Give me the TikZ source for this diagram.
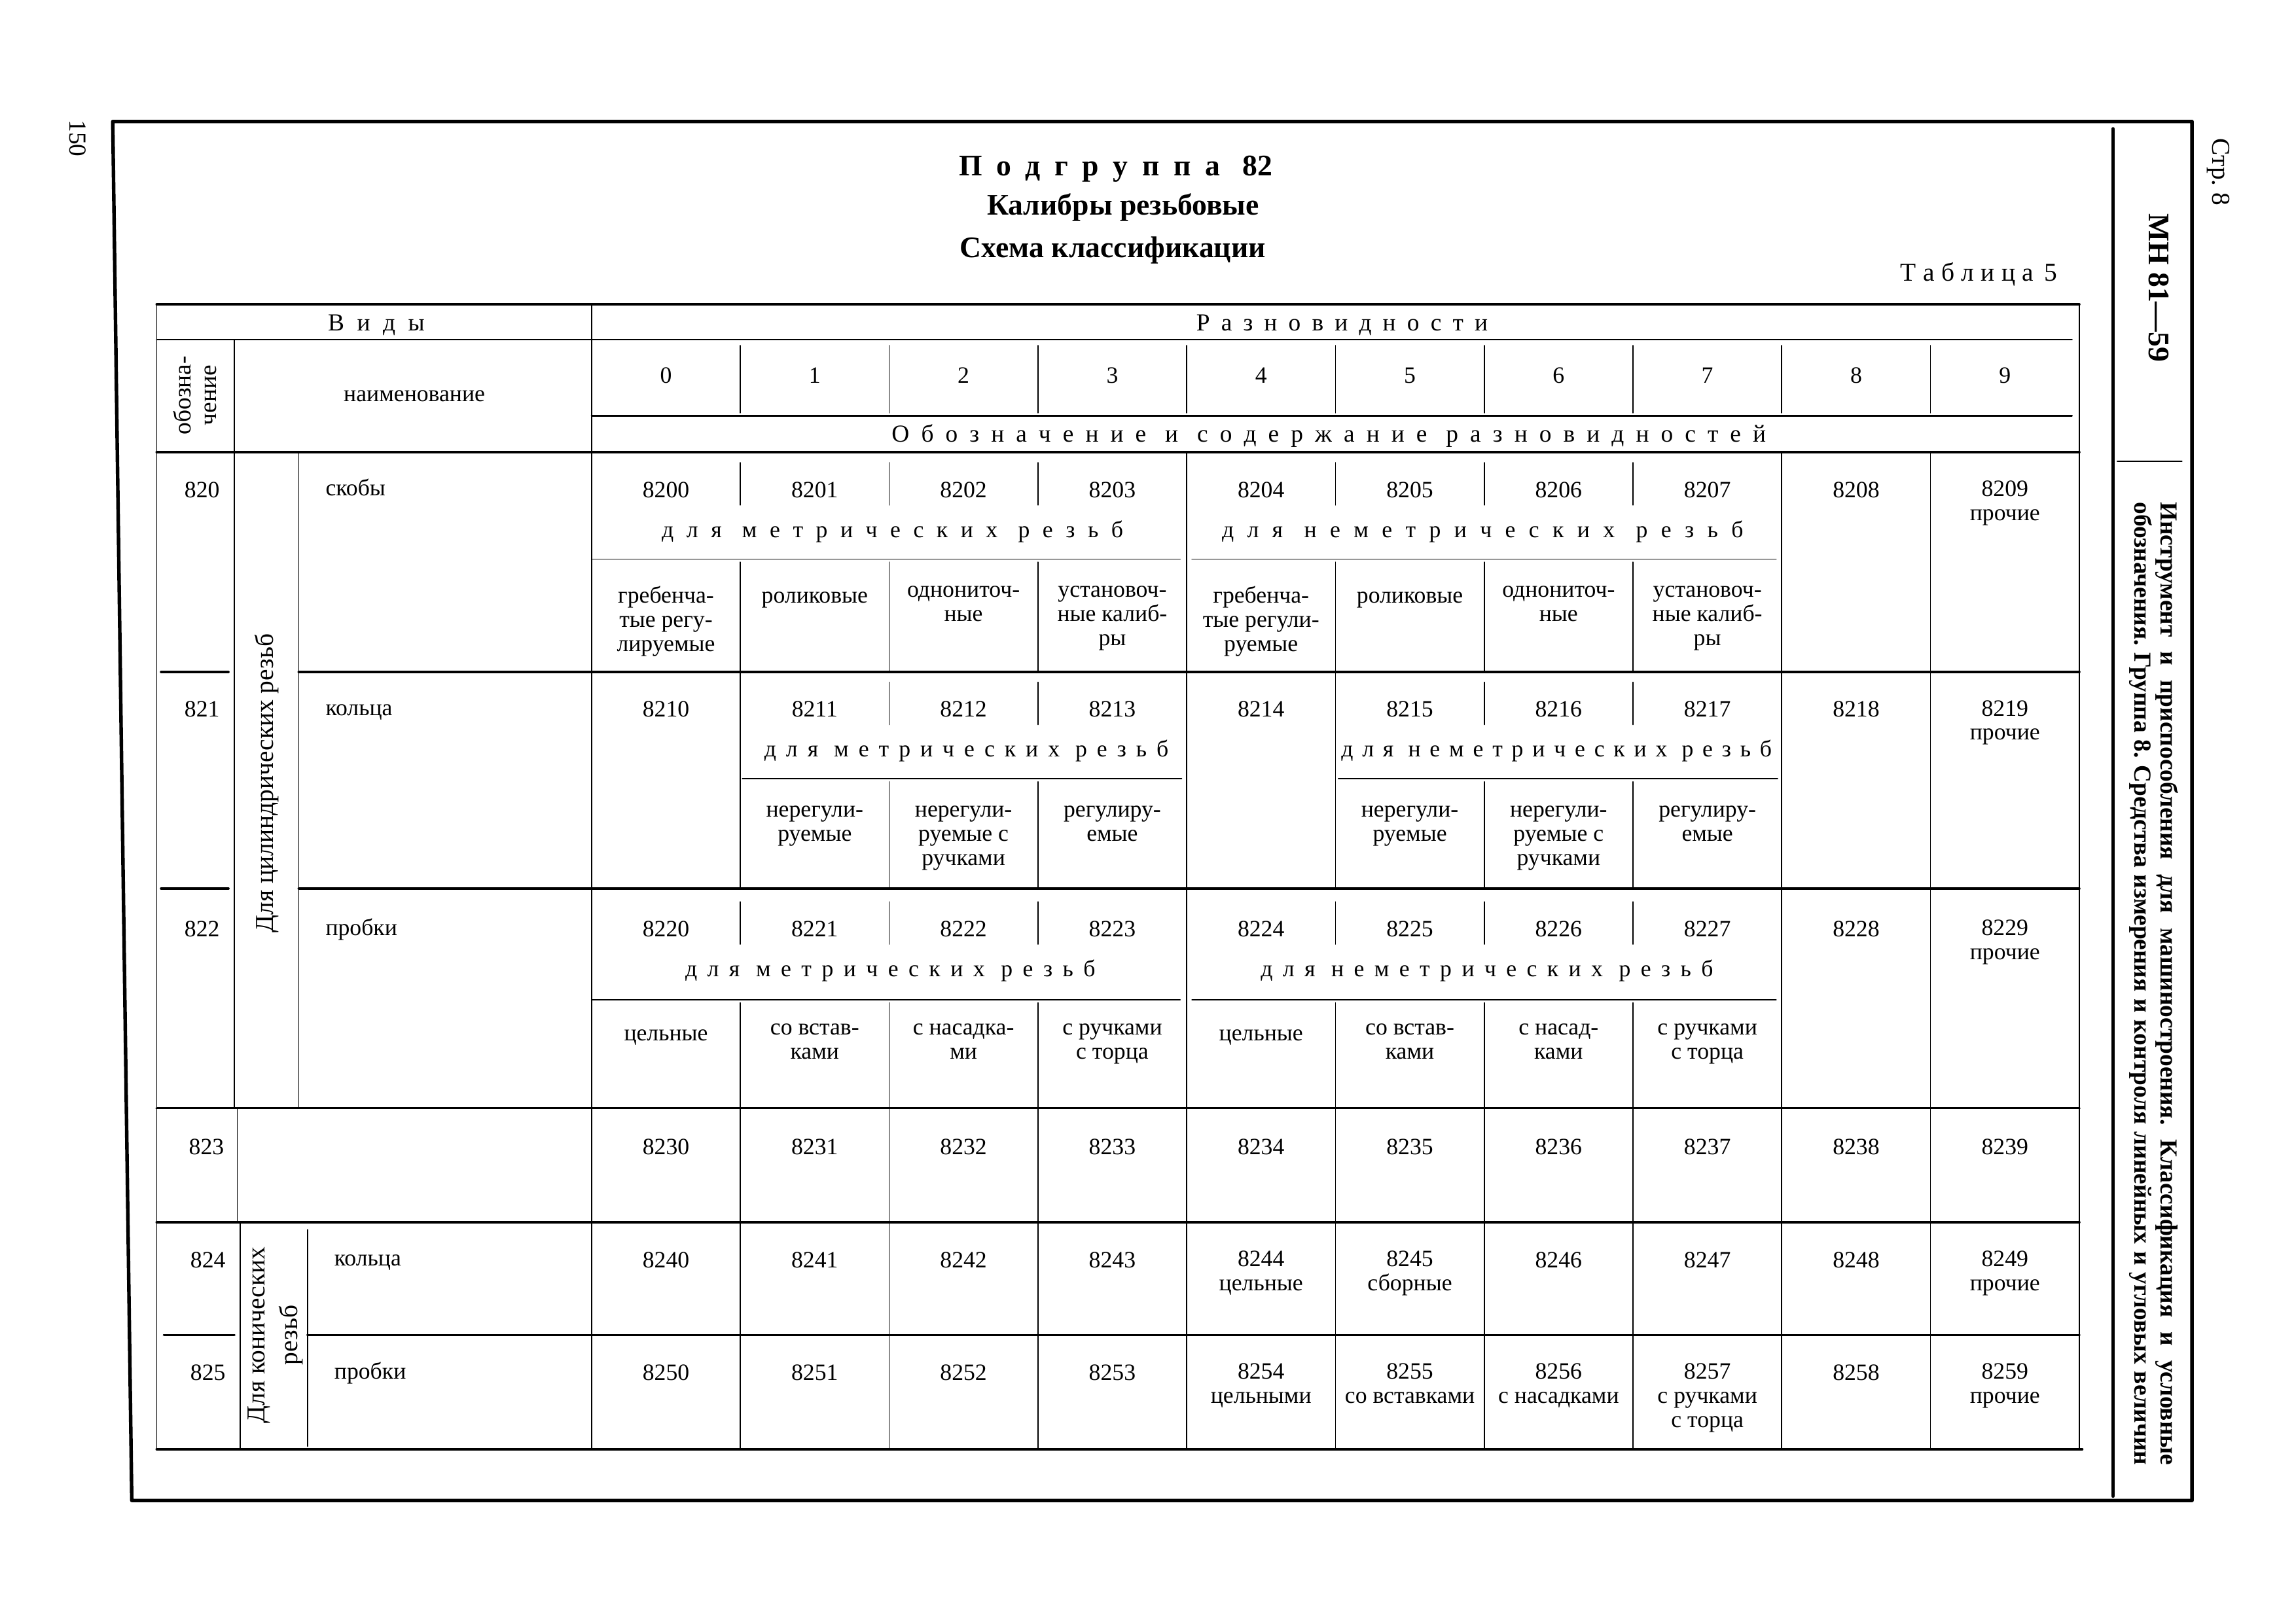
\documentclass[tikz,border=0pt]{standalone}
\usepackage{fontspec}
\setmainfont{Liberation Serif}
\usetikzlibrary{positioning}
\frenchspacing

\newlength\pxunit
\setlength\pxunit{0.018941cm}
\newcommand{\cellfont}{\fontsize{8.6}{8.9}\selectfont}
% letters spread out to a given width (in picture units)
\newcommand{\spread}[2]{\makebox[#1\pxunit][s]{\spaceskip=0pt plus 1fil\relax #2}}
\newcommand{\wg}{\hspace{0pt plus 1.6fil}}

\begin{document}
\begin{tikzpicture}[x=0.018941cm,y=-0.018941cm,line cap=round,line join=round,
  borderline/.style={line width=1.3pt},
  heavyrule/.style={line width=0.9pt},
  midrule/.style={line width=0.6pt},
  thinrule/.style={line width=0.4pt},
  num/.style={font=\cellfont,align=center,inner sep=0pt,anchor=north,execute at begin node=\vphantom{Бб}},
  rowname/.style={num,anchor=north west},
  spaced/.style={font=\cellfont,inner sep=0pt,anchor=base},
  titletext/.style={font=\bfseries\fontsize{11}{13}\selectfont,inner sep=0pt,anchor=base},
  sidetext/.style={font=\bfseries\fontsize{9}{11}\selectfont,inner sep=0pt,rotate=-90}]
\useasboundingbox (0,0) rectangle (1568,1109);

% page frame and side strip
\draw[borderline] (77,83) -- (1497,83) -- (1497,1025) -- (90,1025) -- cycle;
\draw[borderline] (1443,88) -- (1443,1022);
\draw[midrule] (1446,315) -- (1490,315);
\node[font=\fontsize{9}{11}\selectfont,inner sep=0pt,rotate=-90] (page) at (53,94.5) {150};
\node[font=\fontsize{9.5}{11}\selectfont,inner sep=0pt,rotate=-90] (str) at (1515,117.5) {Стр. 8};
\node[font=\bfseries\fontsize{11}{13}\selectfont,inner sep=0pt,rotate=-90] (mn) at (1474.5,196.5) {МН 81—59};
\node[sidetext] (side1) at (1480,672) {\makebox[658\pxunit][s]{Инструмент и приспособления для машиностроения. Классификация и условные}};
\node[sidetext] (side2) at (1462,672) {\makebox[658\pxunit][s]{обозначения. Группа 8. Средства измерения и контроля линейных и угловых величин}};

% titles
\node[titletext] (podgr) at (762,120) {\spread{214}{П о д г р у п п а\wg 82}};
\node[titletext] (kalibr) at (767,147) {Калибры резьбовые};
\node[titletext] (shema) at (760,176) {Схема классификации};
\node[font=\fontsize{9.5}{11}\selectfont,inner sep=0pt,anchor=base] (tabl) at (1351.5,192) {\spread{107}{Т а б л и ц а\wg 5}};

% table outline and header
\draw[heavyrule] (107,208) -- (1420,208);
\draw[thinrule] (107,208) -- (107,990);
\draw[thinrule] (1420,208) -- (1420,990);
\draw[heavyrule] (107,990) -- (1422,990);
\draw[thinrule] (404,208) -- (404,309);
\draw[midrule] (107,232) -- (1415,232);
\draw[thinrule] (160,232) -- (160,309);
\foreach \i in {1,...,9} \draw[thinrule] ({404+101.6*\i},236) -- ++(0,46);
\draw[midrule] (404,284) -- (1415,284);
\draw[heavyrule] (107,309) -- (1420,309);

\node[spaced,font=\fontsize{9}{10}\selectfont] (vidy) at (257,226) {\spread{66}{В и д ы}};
\node[spaced,font=\fontsize{9}{10}\selectfont] (raznov) at (916.5,226) {\spread{199}{Р а з н о в и д н о с т и}};
\node[font=\fontsize{9}{9.5}\selectfont,align=center,inner sep=0pt,rotate=90] (oboz) at (133,270) {обозна-\\чение};
\node[spaced] (naimen) at (283,274) {наименование};
\foreach \i in {0,...,9} \node[spaced] (d\i) at ({454.8+101.6*\i},261.5) {\i};
\node[spaced,font=\fontsize{9}{10}\selectfont] (soderzh) at (907.5,302) {\spread{597}{О б о з н а ч е н и е\wg и\wg с о д е р ж а н и е\wg р а з н о в и д н о с т е й}};

% left columns
\draw[thinrule] (160,309) -- (160,757);
\draw[thinrule] (204,309) -- (204,757);
\draw[heavyrule] (110,459) -- (156,459);
\draw[heavyrule] (110,607) -- (156,607);
\draw[heavyrule] (204,459) -- (1420,459);
\draw[heavyrule] (204,607) -- (1420,607);
\draw[heavyrule] (107,757) -- (1420,757);
\draw[thinrule] (162,757) -- (162,835);
\draw[heavyrule] (107,835) -- (1420,835);
\draw[thinrule] (164,835) -- (164,990);
\draw[thinrule] (210,840) -- (210,988);
\draw[heavyrule] (112,912) -- (160,912);
\draw[heavyrule] (210,912) -- (1420,912);
\node[font=\fontsize{9.5}{11}\selectfont,inner sep=0pt,rotate=90] (cyl) at (182,535) {Для цилиндрических резьб};
\node[font=\fontsize{9.5}{12}\selectfont,align=center,inner sep=0pt,rotate=90] (kon) at (188,912) {Для конических\\резьб};

% row 820
\foreach \i in {0,4,8,9} \draw[thinrule] ({404+101.6*\i},309) -- ++(0,150);
\foreach \i in {1,2,3,5,6,7} {
  \draw[thinrule] ({404+101.6*\i},316) -- ++(0,29);
  \draw[thinrule] ({404+101.6*\i},384) -- ++(0,75);
}
\draw[thinrule] (404,382) -- (806,382);
\draw[thinrule] (814,382) -- (1213,382);
\node[num] (r820) at (138,328) {820};
\node[rowname] (skoby) at (222,327) {скобы};
\foreach \i in {0,...,8} \node[num] (n820\i) at ({454.8+101.6*\i},328) {820\i};
\node[num] (n8209) at (1369.2,328) {8209\\прочие};
\node[spaced] (m820) at (609.5,367) {\spread{315}{д л я\wg м е т р и ч е с к и х\wg р е з ь б}};
\node[spaced] (nm820) at (1012.5,367) {\spread{356}{д л я\wg н е м е т р и ч е с к и х\wg р е з ь б}};
\node[num] (s8200) at (454.8,400) {гребенча-\\тые регу-\\лируемые};
\node[num] (s8201) at (556.4,400) {роликовые};
\node[num] (s8202) at (658,400) {однониточ-\\ные};
\node[num] (s8203) at (759.6,400) {установоч-\\ные калиб-\\ры};
\node[num] (s8204) at (861.2,400) {гребенча-\\тые регули-\\руемые};
\node[num] (s8205) at (962.8,400) {роликовые};
\node[num] (s8206) at (1064.4,400) {однониточ-\\ные};
\node[num] (s8207) at (1166,400) {установоч-\\ные калиб-\\ры};

% row 821
\foreach \i in {0,1,4,5,8,9} \draw[thinrule] ({404+101.6*\i},459) -- ++(0,148);
\foreach \i in {2,3,6,7} {
  \draw[thinrule] ({404+101.6*\i},466) -- ++(0,29);
  \draw[thinrule] ({404+101.6*\i},534) -- ++(0,73);
}
\draw[thinrule] (507,532) -- (807,532);
\draw[thinrule] (914,532) -- (1214,532);
\node[num] (r821) at (138,478) {821};
\node[rowname] (kolca) at (222,477) {кольца};
\foreach \i in {0,...,8} \node[num] (n821\i) at ({454.8+101.6*\i},478) {821\i};
\node[num] (n8219) at (1369.2,478) {8219\\прочие};
\node[spaced] (m821) at (660,517) {\spread{276}{д л я\wg м е т р и ч е с к и х\wg р е з ь б}};
\node[spaced] (nm821) at (1063,517) {\spread{294}{д л я\wg н е м е т р и ч е с к и х\wg р е з ь б}};
\node[num] (s8211) at (556.4,550) {нерегули-\\руемые};
\node[num] (s8212) at (658,550) {нерегули-\\руемые с\\ручками};
\node[num] (s8213) at (759.6,550) {регулиру-\\емые};
\node[num] (s8215) at (962.8,550) {нерегули-\\руемые};
\node[num] (s8216) at (1064.4,550) {нерегули-\\руемые с\\ручками};
\node[num] (s8217) at (1166,550) {регулиру-\\емые};

% row 822
\foreach \i in {0,4,8,9} \draw[thinrule] ({404+101.6*\i},607) -- ++(0,150);
\foreach \i in {1,2,3,5,6,7} {
  \draw[thinrule] ({404+101.6*\i},616) -- ++(0,29);
  \draw[thinrule] ({404+101.6*\i},685) -- ++(0,72);
}
\draw[thinrule] (404,683) -- (806,683);
\draw[thinrule] (814,683) -- (1213,683);
\node[num] (r822) at (138,628) {822};
\node[rowname] (probki) at (222,627) {пробки};
\foreach \i in {0,...,8} \node[num] (n822\i) at ({454.8+101.6*\i},628) {822\i};
\node[num] (n8229) at (1369.2,628) {8229\\прочие};
\node[spaced] (m822) at (608,667) {\spread{280}{д л я\wg м е т р и ч е с к и х\wg р е з ь б}};
\node[spaced] (nm822) at (1015.5,667) {\spread{309}{д л я\wg н е м е т р и ч е с к и х\wg р е з ь б}};
\node[num] (s8220) at (454.8,699) {цельные};
\node[num] (s8221) at (556.4,699) {со встав-\\ками};
\node[num] (s8222) at (658,699) {с насадка-\\ми};
\node[num] (s8223) at (759.6,699) {с ручками\\с торца};
\node[num] (s8224) at (861.2,699) {цельные};
\node[num] (s8225) at (962.8,699) {со встав-\\ками};
\node[num] (s8226) at (1064.4,699) {с насад-\\ками};
\node[num] (s8227) at (1166,699) {с ручками\\с торца};

% rows 823--825
\foreach \i in {0,...,9} \draw[thinrule] ({404+101.6*\i},757) -- ({404+101.6*\i},990);
\node[num] (r823) at (141,777) {823};
\foreach \i in {0,...,9} \node[num] (n823\i) at ({454.8+101.6*\i},777) {823\i};

\node[num] (r824) at (142,854) {824};
\node[rowname] (kolca2) at (228,853) {кольца};
\foreach \i in {0,1,2,3,6,7,8} \node[num] (n824\i) at ({454.8+101.6*\i},854) {824\i};
\node[num] (n8244) at (861.2,854) {8244\\цельные};
\node[num] (n8245) at (962.8,854) {8245\\сборные};
\node[num] (n8249) at (1369.2,854) {8249\\прочие};

\node[num] (r825) at (142,931) {825};
\node[rowname] (probki2) at (228,930) {пробки};
\foreach \i in {0,1,2,3,8} \node[num] (n825\i) at ({454.8+101.6*\i},931) {825\i};
\node[num] (n8254) at (861.2,931) {8254\\цельными};
\node[num] (n8255) at (962.8,931) {8255\\со вставками};
\node[num] (n8256) at (1064.4,931) {8256\\с насадками};
\node[num] (n8257) at (1166,931) {8257\\с ручками\\с торца};
\node[num] (n8259) at (1369.2,931) {8259\\прочие};
\end{tikzpicture}
\end{document}
